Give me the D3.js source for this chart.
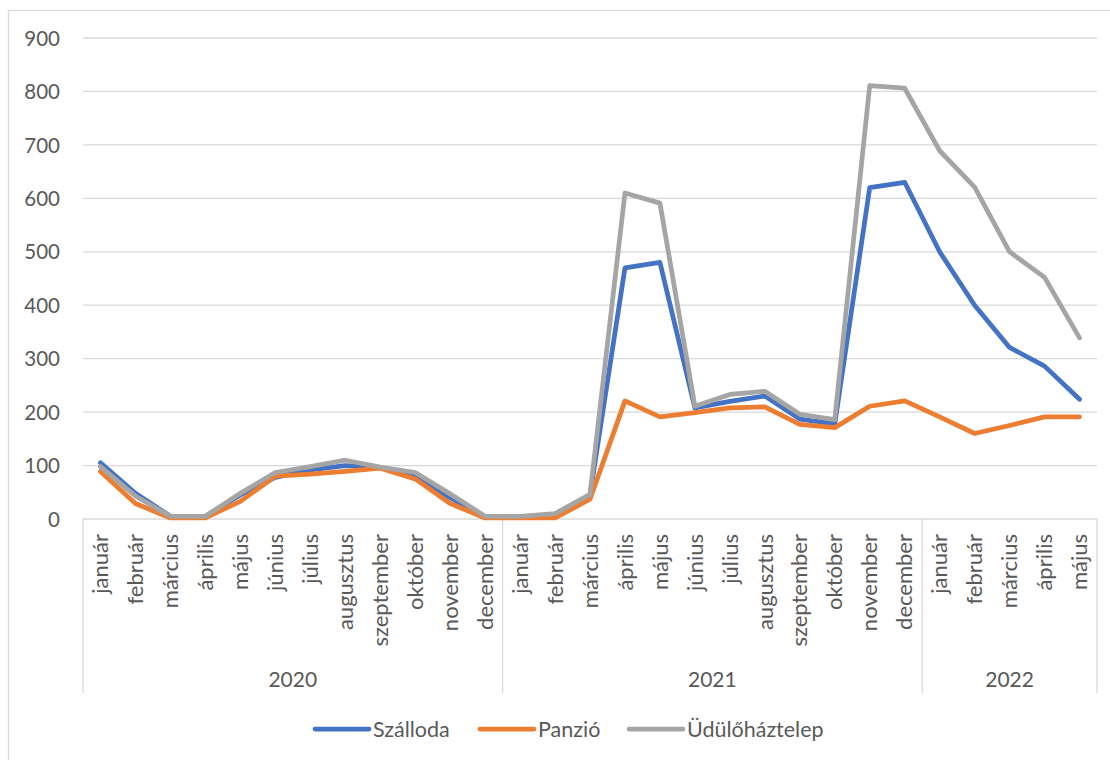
<!DOCTYPE html>
<html><head><meta charset="utf-8">
<script src="https://cdn.jsdelivr.net/npm/d3@7/dist/d3.min.js"></script>
<style>html,body{margin:0;padding:0;background:#fff;}svg{display:block;}</style>
</head><body>
<svg id="c" width="1110" height="760"></svg>
<script>
const years = ["2020", "2021", "2022"];
const monthsPerYear = [12, 12, 5];
const monthNames = ["január","február","március","április","május","június","július","augusztus","szeptember","október","november","december"];
const seriesNames = ["Szálloda", "Panzió", "Üdülőháztelep"];
const seriesColors = ["#4472C4", "#ED7D31", "#A5A5A5"];
const szalloda = [105, 48, 5, 5, 45, 78, 92, 100, 96, 80, 40, 4, 4, 6, 45, 470, 480, 208, 220, 230, 187, 178, 620, 630, 500, 400, 321, 286, 224];
const panzio = [89, 29, 2, 2, 33, 80, 84, 89, 95, 75, 29, 2, 2, 2, 37, 221, 191, 199, 208, 210, 177, 171, 211, 221, 191, 160, 175, 191, 191];
const udulo = [98, 43, 5, 5, 48, 87, 98, 110, 97, 87, 47, 5, 5, 10, 46, 610, 591, 211, 233, 239, 196, 186, 811, 806, 689, 621, 500, 452, 339];
const yTicks = [0, 100, 200, 300, 400, 500, 600, 700, 800, 900];

const cats = [];
years.forEach((y, i) => { for (let m = 0; m < monthsPerYear[i]; m++) cats.push({ key: y + "-" + m, year: y, month: monthNames[m] }); });
const series = [szalloda, panzio, udulo];

const svg = d3.select("#c");
const font = "Lato, 'Open Sans', sans-serif";
const txt = "#595959", grid = "#d9d9d9";
const L = 83, R = 1097, T = 38, B = 519;

svg.append("rect").attr("x", 8.5).attr("y", 10.5).attr("width", 1120).attr("height", 770)
  .attr("fill", "#fff").attr("stroke", grid).attr("stroke-width", 1.2);

const x = d3.scaleBand().domain(cats.map(d => d.key)).range([L, R]).padding(0);
const y = d3.scaleLinear().domain([0, 900]).range([B, T]);

// gridlines
svg.append("g").selectAll("line").data(yTicks.filter(v => v > 0)).join("line")
  .attr("x1", L).attr("x2", R).attr("y1", d => y(d)).attr("y2", d => y(d))
  .attr("stroke", grid).attr("stroke-width", 1.3);

// y axis labels
const yAxis = d3.axisLeft(y).tickValues(yTicks).tickSize(0).tickPadding(0);
const gy = svg.append("g").attr("transform", "translate(60,0)").call(yAxis);
gy.select(".domain").remove();
gy.selectAll("text").attr("font-family", font).attr("font-size", 20.5).attr("fill", txt).attr("dy", "0.35em");

// x axis line
svg.append("line").attr("x1", L).attr("x2", R).attr("y1", B).attr("y2", B).attr("stroke", grid).attr("stroke-width", 1.3);

// group separators
let idx = 0;
const bounds = [L];
monthsPerYear.forEach(n => { idx += n; bounds.push(idx < cats.length ? x(cats[idx].key) : R); });
svg.append("g").selectAll("line").data(bounds).join("line")
  .attr("x1", d => d).attr("x2", d => d).attr("y1", B).attr("y2", 693)
  .attr("stroke", grid).attr("stroke-width", 1.3);

// month labels
const gx = svg.append("g").attr("transform", `translate(0,${B})`)
  .call(d3.axisBottom(x).tickSize(0).tickFormat(k => cats.find(c => c.key === k).month));
gx.select(".domain").remove();
gx.selectAll("text")
  .attr("font-family", font).attr("font-size", 22).attr("fill", txt)
  .attr("text-anchor", "end").attr("y", 0).attr("dy", "0.35em")
  .attr("transform", "translate(0,15) rotate(-90)");

// year labels
svg.append("g").selectAll("text").data(years).join("text")
  .attr("x", (d, i) => (bounds[i] + bounds[i + 1]) / 2).attr("y", 687)
  .attr("text-anchor", "middle").attr("font-family", font).attr("font-size", 21).attr("fill", txt)
  .text(d => d);

// lines
const line = d3.line().x((d, i) => x(cats[i].key) + x.bandwidth() / 2).y(d => y(d));
svg.append("g").selectAll("path").data(series).join("path")
  .attr("d", d => line(d)).attr("fill", "none")
  .attr("stroke", (d, i) => seriesColors[i]).attr("stroke-width", 4.75)
  .attr("stroke-linejoin", "round").attr("stroke-linecap", "round");

// legend
const legX = [315, 480, 629];
const lg = svg.append("g").selectAll("g").data(seriesNames).join("g")
  .attr("transform", (d, i) => `translate(${legX[i]},729)`);
lg.append("line").attr("x1", 0).attr("x2", 54).attr("y1", 0).attr("y2", 0)
  .attr("stroke", (d, i) => seriesColors[i]).attr("stroke-width", 4.75).attr("stroke-linecap", "round");
lg.append("text").attr("x", 58).attr("y", 0).attr("dy", "0.35em")
  .attr("font-family", font).attr("font-size", 21.5).attr("fill", txt).text(d => d);
</script>
</body></html>
